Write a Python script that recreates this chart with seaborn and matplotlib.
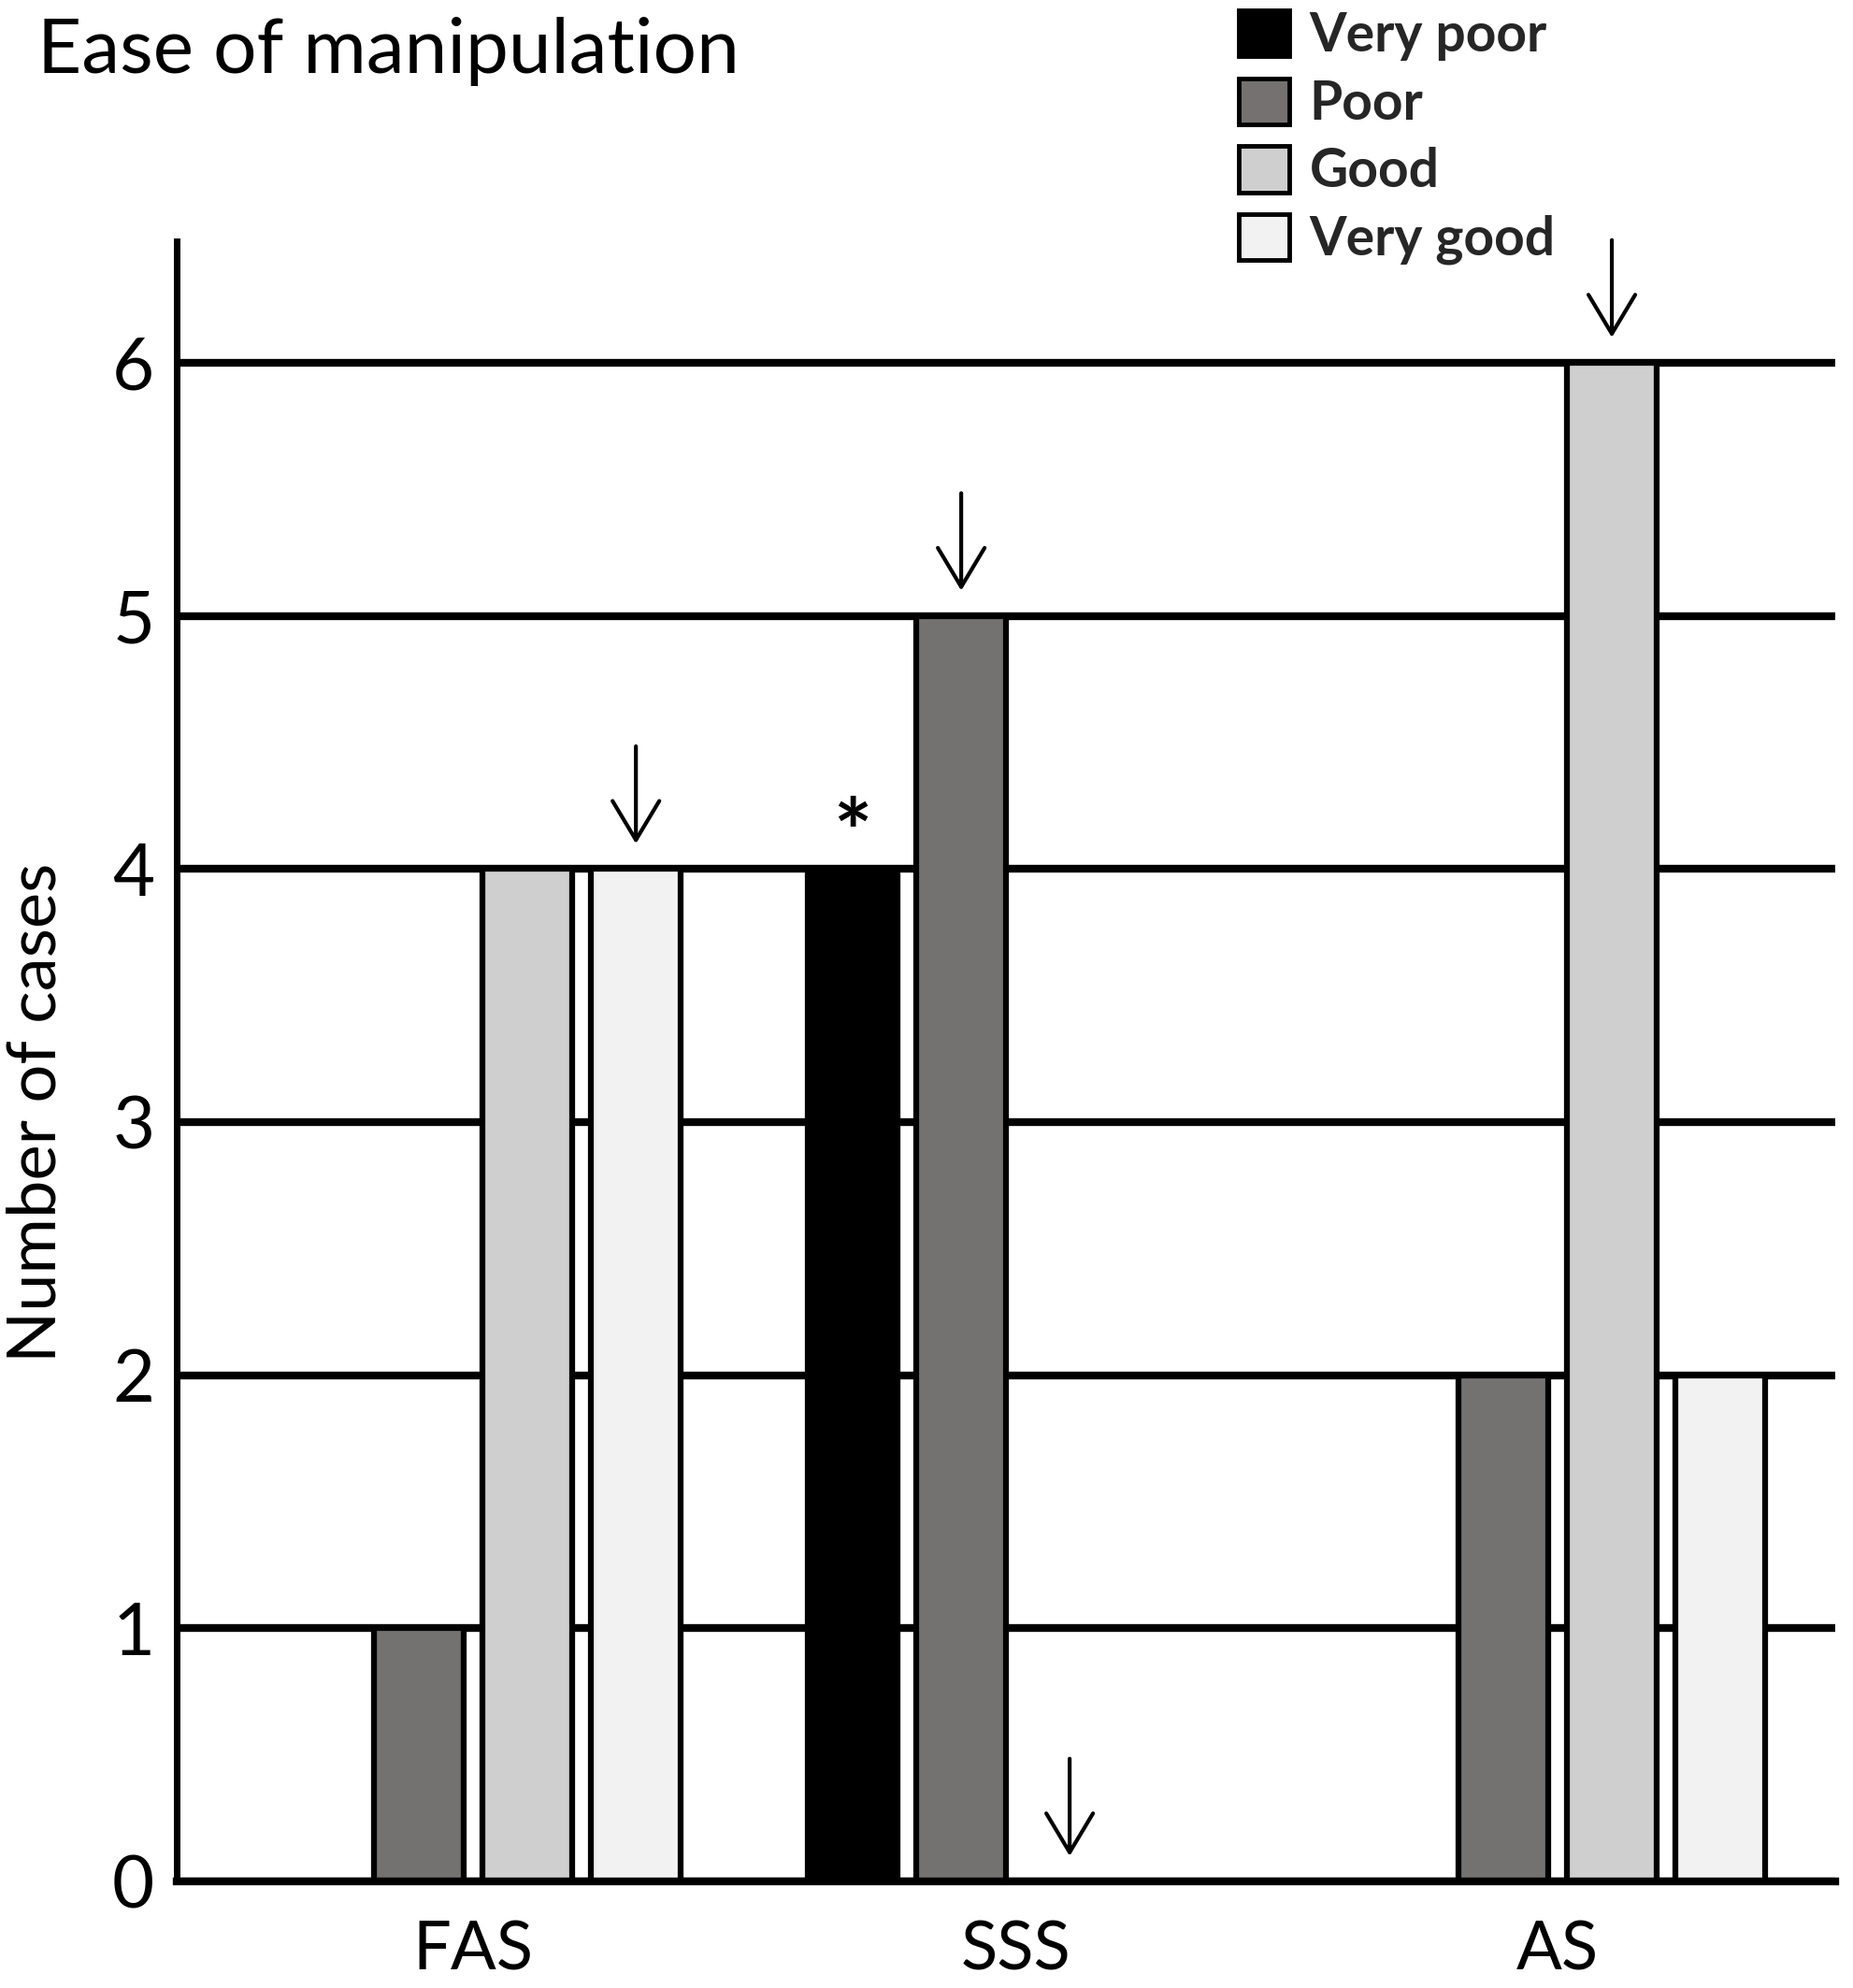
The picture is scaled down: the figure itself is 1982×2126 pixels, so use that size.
import pandas as pd
import seaborn as sns
import matplotlib.pyplot as plt
from matplotlib.patches import Patch

# values
groups = ["FAS", "SSS", "AS"]
ratings = ["Very poor", "Poor", "Good", "Very good"]
very_poor = [0, 4, 0]
poor = [1, 5, 2]
good = [4, 0, 6]
very_good = [4, 0, 2]
colors = ["#000000", "#757170", "#d0cfd0", "#f2f2f2"]

# bars marked with an arrow / asterisk
arrow_bars = [("FAS", "Very good"), ("SSS", "Poor"), ("SSS", "Good"), ("AS", "Good")]
star_bars = [("SSS", "Very poor")]

# long table for seaborn
record = []
for rating, values in zip(ratings, [very_poor, poor, good, very_good]):
    for group, v in zip(groups, values):
        record.append((group, rating, v))
df = pd.DataFrame(record, columns=["Group", "Rating", "Cases"])

sns.set_theme(style="white")
plt.rcParams["font.family"] = ["Lato", "DejaVu Sans"]

fig = plt.figure(figsize=(19.83, 21.26), dpi=100)
ax = fig.add_axes([0.0953, 0.0536, 0.8946, 0.825])

ax.set_axisbelow(True)
ax.yaxis.grid(True, color="black", linewidth=6)
sns.barplot(data=df, x="Group", y="Cases", hue="Rating", order=groups,
            hue_order=ratings, palette=colors, edgecolor="black",
            linewidth=4.5, width=0.8, gap=0.17, legend=False, ax=ax)

ax.set_xlim(-0.547, 2.512)
ax.set_ylim(0, 6.48)
ax.set_yticks(range(0, 7))
ax.tick_params(axis="both", length=0)
ax.tick_params(axis="y", labelsize=56, pad=17)
ax.tick_params(axis="x", labelsize=52, pad=30)
for lab in ax.get_yticklabels() + ax.get_xticklabels():
    lab.set_color("black")

sns.despine(ax=ax)
ax.spines["left"].set_linewidth(5)
ax.spines["bottom"].set_linewidth(6)
ax.spines["left"].set_color("black")
ax.spines["bottom"].set_color("black")

ax.set_xlabel("")
ax.set_ylabel("Number of cases", fontsize=52, color="black")
ax.yaxis.set_label_coords(-0.066, 0.4686)


def bar_of(group, rating):
    return ax.containers[ratings.index(rating)][groups.index(group)]


# arrows above selected bars
for group, rating in arrow_bars:
    bar = bar_of(group, rating)
    xc = bar.get_x() + bar.get_width() / 2
    top = bar.get_height()
    ax.annotate("", xy=(xc, top + 0.1), xytext=(xc, top + 0.485),
                arrowprops=dict(arrowstyle="->,head_length=0.5,head_width=0.3",
                                lw=3, color="black", mutation_scale=60,
                                shrinkA=0, shrinkB=0),
                annotation_clip=False)

for group, rating in star_bars:
    bar = bar_of(group, rating)
    xc = bar.get_x() + bar.get_width() / 2
    ax.text(xc, bar.get_height() + 0.12, "*", ha="center", va="center",
            fontsize=70, fontweight="bold", color="black")

fig.text(40 / 1983, 1 - 78 / 2126, "Ease of manipulation", fontsize=59,
         ha="left", va="baseline", color="black")

handles = [Patch(facecolor=c, edgecolor="black", linewidth=3.5, label=r)
           for c, r in zip(colors, ratings)]
fig.legend(handles=handles, loc="upper left",
           bbox_to_anchor=(1325 / 1983, 1 - 11 / 2126), frameon=False,
           borderpad=0, borderaxespad=0, handlelength=0.95,
           handleheight=0.96, labelspacing=0.32, handletextpad=0.38,
           prop={"weight": "bold", "size": 41})

plt.savefig("out.png", dpi=100)
